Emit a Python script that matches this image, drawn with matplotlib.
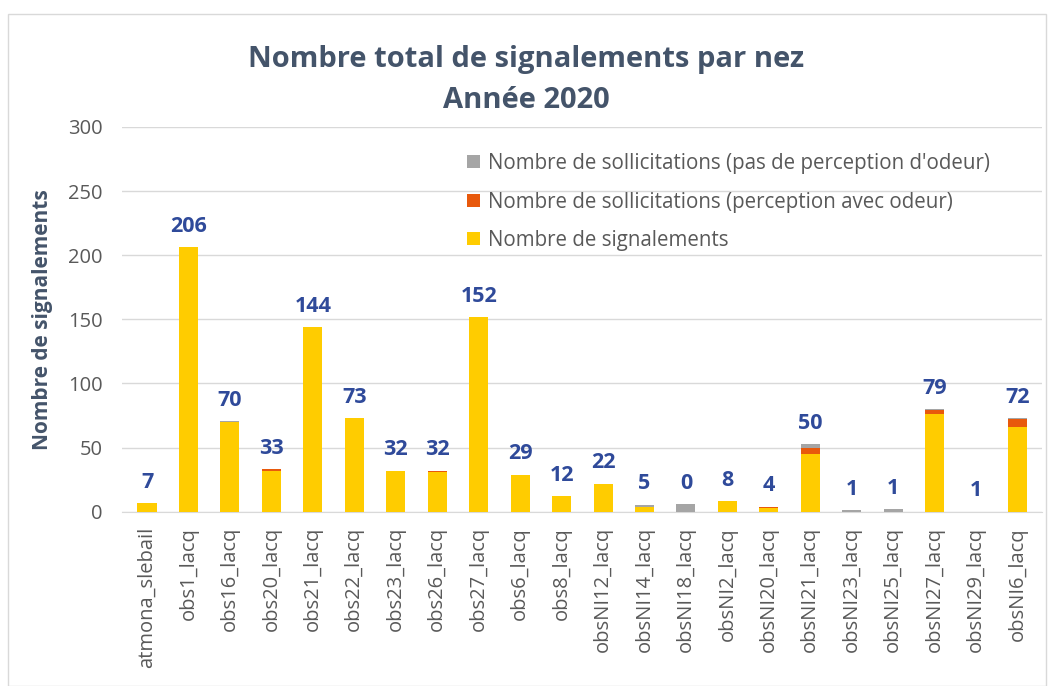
import numpy as np
import matplotlib.pyplot as plt

plt.rcParams['font.family'] = ['Open Sans', 'DejaVu Sans']

noses = ["atmona_slebail", "obs1_lacq", "obs16_lacq", "obs20_lacq", "obs21_lacq",
         "obs22_lacq", "obs23_lacq", "obs26_lacq", "obs27_lacq", "obs6_lacq",
         "obs8_lacq", "obsNI12_lacq", "obsNI14_lacq", "obsNI18_lacq", "obsNI2_lacq",
         "obsNI20_lacq", "obsNI21_lacq", "obsNI23_lacq", "obsNI25_lacq", "obsNI27_lacq",
         "obsNI29_lacq", "obsNI6_lacq"]
signalements = [7, 206, 70, 32, 144, 73, 32, 31, 152, 29, 12, 22, 4, 0, 8, 3, 45, 0, 0, 76, 0, 66]
avec_odeur = [0, 0, 0, 1, 0, 0, 0, 1, 0, 0, 0, 0, 0, 0, 0, 1, 5, 0, 0, 3, 0, 6]
sans_odeur = [0, 0, 0.5, 0.5, 0, 0, 0, 0, 0, 0, 0, 0, 1.5, 6, 0, 0, 3, 1, 2, 1, 0, 1]
labels = [7, 206, 70, 33, 144, 73, 32, 32, 152, 29, 12, 22, 5, 0, 8, 4, 50, 1, 1, 79, 1, 72]

yellow = "#FFCC00"
orange = "#E8590C"
grey = "#A5A5A5"
txt = "#595959"

fig = plt.figure(figsize=(10.53, 6.86), dpi=100)
ax = fig.add_axes([0.116, 0.254, 0.874, 0.561])

x = np.arange(len(noses))
s = np.array(signalements)
o = np.array(avec_odeur)
g = np.array(sans_odeur)
w = 0.46
b1 = ax.bar(x, s, w, color=yellow, label="Nombre de signalements", zorder=3)
b2 = ax.bar(x, o, w, bottom=s, color=orange,
            label="Nombre de sollicitations (perception avec odeur)", zorder=3)
b3 = ax.bar(x, g, w, bottom=s + o, color=grey,
            label="Nombre de sollicitations (pas de perception d'odeur)", zorder=3)

tops = s + o + g
for xi, t, lab in zip(x, tops, labels):
    ax.text(xi, t + 8, str(lab), ha="center", va="bottom", fontsize=15.5,
            fontweight="bold", color="#2F4A9A")

ax.set_xlim(-0.6, len(noses) - 0.4)
ax.set_ylim(0, 300)
ax.set_yticks(range(0, 301, 50))
ax.set_xticks(x)
ax.set_xticklabels(noses, rotation=90, fontsize=14.5, color=txt)
ax.tick_params(axis="y", labelsize=14.5, colors=txt, length=0, pad=14)
ax.tick_params(axis="x", length=0, pad=11)
ax.grid(axis="y", color="#D9D9D9", linewidth=1, zorder=0)
for sp in ["top", "right", "left"]:
    ax.spines[sp].set_visible(False)
ax.spines["bottom"].set_color("#D9D9D9")

ax.set_ylabel("Nombre de signalements", fontsize=15, fontweight="bold",
              color="#44546A", labelpad=11)

fig.suptitle("Nombre total de signalements par nez\nAnnée 2020", y=0.935,
             fontsize=21, fontweight="bold", color="#44546A", linespacing=1.55)

leg = ax.legend(handles=[b3, b2, b1], loc="upper right", bbox_to_anchor=(0.963, 0.98),
                frameon=False, fontsize=14.8, handlelength=0.6, handleheight=0.6,
                handletextpad=0.4, labelspacing=0.85)
for t in leg.get_texts():
    t.set_color(txt)

fig.patches.append(plt.Rectangle((0.008, 0.0), 0.985, 0.98, transform=fig.transFigure,
                                 fill=False, edgecolor="#D9D9D9", linewidth=1))

fig.savefig("out.png", dpi=100)
